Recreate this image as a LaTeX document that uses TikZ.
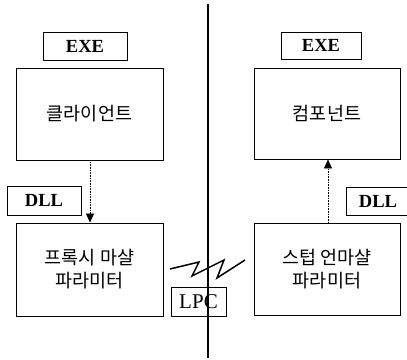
\documentclass[tikz,border=0pt]{standalone}
\usepackage{fontspec}
\setmainfont{Liberation Serif}
\newfontfamily\kr{Noto Sans CJK KR}
\usetikzlibrary{arrows.meta}
\begin{document}
\begin{tikzpicture}[x=1pt,y=-1pt,
  bigbox/.style={draw,line width=0.9pt,inner sep=0pt,font=\kr\fontsize{18.5}{23}\selectfont,align=center},
  tagbox/.style={draw,line width=0.9pt,inner sep=0pt,font=\bfseries\fontsize{18.5}{20}\selectfont},
  arr/.style={densely dotted,line width=0.6pt,-{Triangle[length=9pt,width=8pt]}},
  ]
\useasboundingbox (0,0) rectangle (407,359);
\clip (0,0) rectangle (407,359);
\node[bigbox,minimum width=147pt,minimum height=92pt] (client) at (89.5,114) {클라이언트};
\node[bigbox,minimum width=147pt,minimum height=93pt] (proxy) at (89.5,269.5) {프록시 마샬\\파라미터};
\node[bigbox,minimum width=146pt,minimum height=91pt] (comp) at (327,113.5) {컴포넌트};
\node[bigbox,minimum width=146pt,minimum height=92pt] (stub) at (327,269) {스텁 언마샬\\파라미터};
\node[tagbox,minimum width=84pt,minimum height=28pt] (exel) at (85,46) {EXE};
\node[tagbox,minimum width=80pt,minimum height=27pt] (exer) at (321,45.5) {EXE};
\node[tagbox,minimum width=74pt,minimum height=29pt] (dlll) at (44,200.5) {DLL};
\node[tagbox,minimum width=64pt,minimum height=28pt] (dllr) at (378,201) {DLL};
\node[draw,line width=0.9pt,inner sep=0pt,minimum width=55pt,minimum height=29pt,font=\fontsize{21}{22}\selectfont] (lpc) at (198.5,301.5) {LPC};
\coordinate (vtop) at (207.5,4);
\coordinate (vbot) at (207.5,358);
\draw[line width=2pt] (vtop) -- (vbot);
\draw[arr] ([xshift=0.5pt]client.south) -- ([xshift=0.5pt]proxy.north);
\draw[arr] ([xshift=1pt]stub.north) -- ([xshift=1pt]comp.south);
\coordinate (z1) at (170,269);
\coordinate (z2) at (199,262);
\coordinate (z3) at (192,276);
\coordinate (z4) at (224,260);
\coordinate (z5) at (217,278);
\coordinate (z6) at (245,260);
\draw[line width=1.5pt,line join=miter] (z1) -- (z2) -- (z3) -- (z4) -- (z5) -- (z6);
\end{tikzpicture}
\end{document}
